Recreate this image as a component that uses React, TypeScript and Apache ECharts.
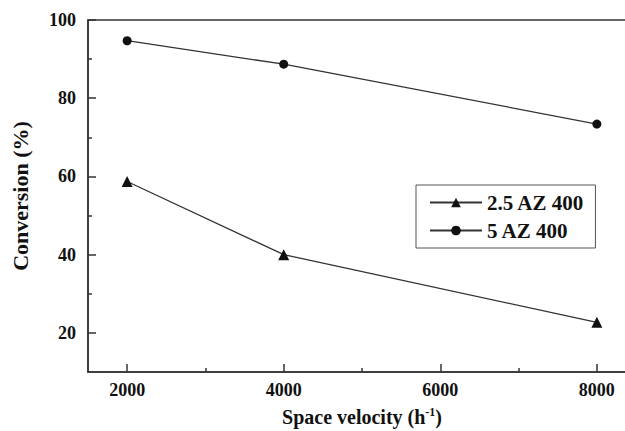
import React, { useEffect, useRef } from "react";
import * as echarts from "echarts";

const spaceVelocity = [2000, 4000, 8000];
const az25 = [58.7, 40.0, 22.7];
const az5 = [94.7, 88.7, 73.4];
const xMajorTicks = [2000, 4000, 6000, 8000];
const xMinorTicks = [3000, 5000, 7000];
const yMajorTicks = [20, 40, 60, 80, 100];
const yMinorTicks = [30, 50, 70, 90];

const FONT = "'Liberation Serif', 'Times New Roman', serif";

export default function App() {
  const ref = useRef<HTMLDivElement>(null);
  useEffect(() => {
    if (!ref.current) return;
    const chart = echarts.init(ref.current, undefined, { renderer: "svg" });
    const axisColor = "#333";
    chart.setOption({
      animation: false,
      backgroundColor: "#fff",
      grid: {
        left: 88,
        top: 20,
        width: 548,
        height: 352,
        outerBoundsMode: "none",
        containLabel: false,
        show: true,
        borderColor: axisColor,
        borderWidth: 1.5,
        backgroundColor: "transparent",
      },
      legend: {
        orient: "vertical",
        left: 416,
        top: 185,
        padding: [7, 11, 7, 13],
        itemWidth: 52,
        itemHeight: 12,
        itemGap: 7,
        borderColor: "#555",
        borderWidth: 1,
        backgroundColor: "#fff",
        textStyle: { fontFamily: FONT, fontWeight: "bold", fontSize: 21, color: "#111" },
        data: ["2.5 AZ 400", "5 AZ 400"],
      },
      xAxis: [
        {
          type: "value",
          min: 1500,
          max: 8500,
          position: "bottom",
          name: "Space velocity (h{sup|-1})",
          nameLocation: "middle",
          nameGap: 34,
          nameTextStyle: {
            fontFamily: FONT,
            fontWeight: "bold",
            fontSize: 20,
            color: "#111",
            rich: {
              sup: {
                fontFamily: FONT,
                fontWeight: "bold",
                fontSize: 12,
                color: "#111",
                verticalAlign: "top",
                padding: [0, 0, 10, 0],
              },
            },
          },
          splitLine: { show: false },
          axisLine: { show: true, onZero: false, lineStyle: { color: axisColor, width: 1.5 } },
          axisTick: {
            show: true,
            inside: true,
            length: 8,
            customValues: xMajorTicks,
            lineStyle: { color: axisColor, width: 1.5 },
          },
          axisLabel: {
            customValues: xMajorTicks,
            formatter: (v: number) => String(v),
            margin: 9,
            fontFamily: FONT,
            fontWeight: "bold",
            fontSize: 18,
            color: "#111",
          },
        },
        {
          type: "value",
          min: 1500,
          max: 8500,
          position: "bottom",
          splitLine: { show: false },
          axisLine: { show: false },
          axisTick: {
            show: true,
            inside: true,
            length: 4,
            customValues: xMinorTicks,
            lineStyle: { color: axisColor, width: 1.5 },
          },
          axisLabel: { show: false },
        },
      ],
      yAxis: [
        {
          type: "value",
          min: 10,
          max: 100,
          position: "left",
          name: "Conversion (%)",
          nameLocation: "middle",
          nameGap: 57,
          nameTextStyle: { fontFamily: FONT, fontWeight: "bold", fontSize: 22, color: "#111" },
          splitLine: { show: false },
          axisLine: { show: true, onZero: false, lineStyle: { color: axisColor, width: 1.5 } },
          axisTick: {
            show: true,
            inside: true,
            length: 8,
            customValues: yMajorTicks,
            lineStyle: { color: axisColor, width: 1.5 },
          },
          axisLabel: {
            customValues: yMajorTicks,
            formatter: (v: number) => String(v),
            margin: 12,
            fontFamily: FONT,
            fontWeight: "bold",
            fontSize: 18,
            color: "#111",
          },
        },
        {
          type: "value",
          min: 10,
          max: 100,
          position: "left",
          splitLine: { show: false },
          axisLine: { show: false },
          axisTick: {
            show: true,
            inside: true,
            length: 4,
            customValues: yMinorTicks,
            lineStyle: { color: axisColor, width: 1.5 },
          },
          axisLabel: { show: false },
        },
      ],
      series: [
        {
          name: "2.5 AZ 400",
          type: "line",
          data: spaceVelocity.map((x, i) => [x, az25[i]]),
          symbol: "triangle",
          symbolSize: 11,
          lineStyle: { color: "#333", width: 1.3 },
          itemStyle: { color: "#111", borderWidth: 0 },
        },
        {
          name: "5 AZ 400",
          type: "line",
          data: spaceVelocity.map((x, i) => [x, az5[i]]),
          symbol: "circle",
          symbolSize: 9,
          lineStyle: { color: "#333", width: 1.3 },
          itemStyle: { color: "#111", borderWidth: 0 },
        },
      ],
    });
    return () => chart.dispose();
  }, []);
  return <div ref={ref} style={{ width: 625, height: 431, position: "absolute", left: 0, top: 0 }} />;
}
